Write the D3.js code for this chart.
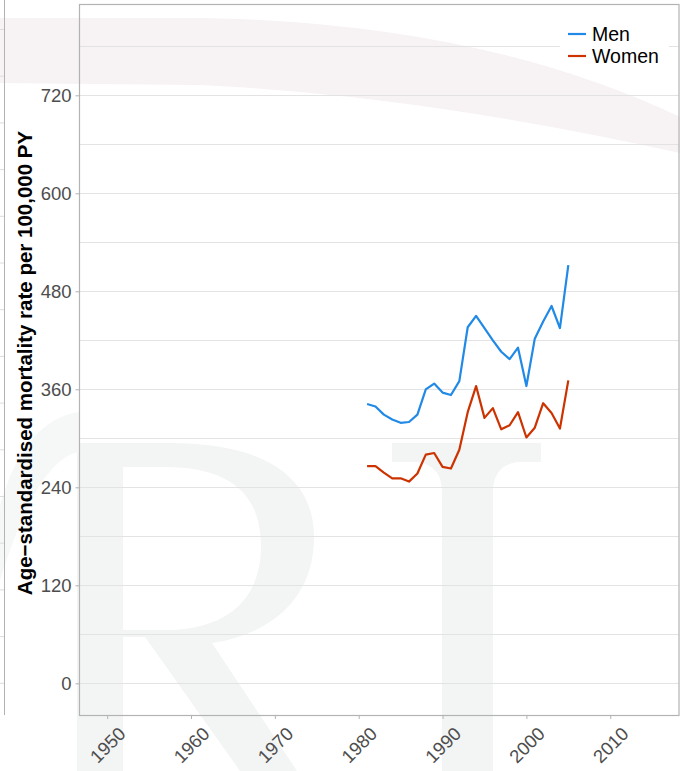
<!DOCTYPE html>
<html>
<head>
<meta charset="utf-8">
<script src="https://cdn.jsdelivr.net/npm/d3@7"></script>
<style>
  body { margin: 0; background: #fff; }
  svg { display: block; font-family: "Liberation Sans", Arial, sans-serif; }
</style>
</head>
<body>
<svg id="chart" width="680" height="771"></svg>
<script>
// ---- data ----
const years = d3.range(1981, 2006);
const menRates = [342, 339, 329, 323, 319, 320, 329, 360, 367, 356, 353, 370, 436, 450, 435,
                  420, 406, 397, 411, 364, 422, 443, 462, 435, 512];
const womenRates = [266, 266, 258, 251, 251, 247, 257, 280, 282, 265, 263, 286, 332, 364, 325,
                    337, 311, 316, 332, 301, 313, 343, 331, 312, 371];
const seriesNames = ["Men", "Women"];
const seriesColors = ["#2189e6", "#cc3300"];
const xTicks = [1950, 1960, 1970, 1980, 1990, 2000, 2010];
const yTicks = [0, 120, 240, 360, 480, 600, 720];
const yMinor = [60, 180, 300, 420, 540, 660, 780];

const svg = d3.select("#chart");
const plot = { left: 79.5, right: 679, top: 4, bottom: 715 };

const x = d3.scaleLinear().domain([1946.7, 2018.2]).range([plot.left, plot.right]);
const y = d3.scaleLinear().domain([-38.8, 831.8]).range([plot.bottom, plot.top]);

/************** Watermark (behind everything) **************/
const wm = svg.append("g").attr("class", "watermark");
// pale pink sweep at the top
wm.append("path")
  .attr("d", "M0,18 L200,18 Q480,22 680,117 L680,153 Q420,95 200,85 L0,83 Z")
  .attr("fill", "#f7f2f3");
// letters
wm.append("path")
  .attr("fill-rule", "evenodd")
  .attr("d",
    "M66,443 L170,443 C272,443 314,482 314,537 C314,598 272,634 212,643 L297,771 L240,771 L145,637 L123,637 L123,771 L77,771 L77,452 Z " +
    "M123,467 L165,467 C232,467 261,496 261,546 C261,600 226,630 165,630 L123,630 Z")
  .attr("fill", "#f3f4f4");
wm.append("path")
  .attr("d", "M392,443 L541,443 L541,462 L517,462 Q493,466 493,492 L493,771 L442,771 L442,492 Q442,466 418,462 L392,462 Z")
  .attr("fill", "#f3f4f4");
wm.append("path")
  .attr("d", "M0,505 Q25,420 79,412 L79,452 Q38,458 0,580 Z")
  .attr("fill", "#f6f7f7");

/************** Left neighbour panel edge **************/
const edge = svg.append("g").attr("class", "left-panel");
edge.append("line")
  .attr("x1", 4.5).attr("x2", 4.5).attr("y1", 0).attr("y2", plot.bottom)
  .attr("stroke", "#b3b3b3");
edge.selectAll("line.stub")
  .data(d3.range(15))
  .join("line")
    .attr("class", "stub")
    .attr("x1", 0).attr("x2", 4)
    .attr("y1", k => 29.5 + k * 46.7).attr("y2", k => 29.5 + k * 46.7)
    .attr("stroke", "#dcdcdc");

/************** Grid **************/
const grid = svg.append("g").attr("class", "grid");
grid.selectAll("line")
  .data(yTicks.concat(yMinor))
  .join("line")
    .attr("x1", plot.left).attr("x2", plot.right)
    .attr("y1", d => Math.round(y(d)) + 0.5).attr("y2", d => Math.round(y(d)) + 0.5)
    .attr("stroke", "#e3e3e3").attr("stroke-width", 1.2);

/************** Axes **************/
const yAxis = svg.append("g")
  .attr("transform", `translate(${plot.left},0)`)
  .call(d3.axisLeft(y).tickValues(yTicks).tickSize(4).tickPadding(4));
yAxis.select(".domain").remove();
yAxis.selectAll(".tick line").attr("stroke", "#b3b3b3");
yAxis.selectAll(".tick text")
  .attr("fill", "#4d4d4d").style("font-size", "18.5px")
  .style("font-family", "'Liberation Sans', Arial, sans-serif");

const xAxis = svg.append("g")
  .attr("transform", `translate(0,${plot.bottom})`)
  .call(d3.axisBottom(x).tickValues(xTicks).tickFormat(d3.format("d")).tickSize(4));
xAxis.select(".domain").remove();
xAxis.selectAll(".tick line").attr("stroke", "#b3b3b3");
xAxis.selectAll(".tick text")
  .attr("fill", "#4d4d4d").style("font-size", "18.5px")
  .style("font-family", "'Liberation Sans', Arial, sans-serif")
  .attr("text-anchor", "middle")
  .attr("y", 0).attr("dy", "0.35em")
  .attr("transform", "translate(0,30) rotate(-45)");

// plot frame
svg.append("rect")
  .attr("x", plot.left).attr("y", plot.top + 0.5)
  .attr("width", plot.right - plot.left).attr("height", plot.bottom - plot.top)
  .attr("fill", "none").attr("stroke", "#b3b3b3").attr("stroke-width", 1.2);

// y title
svg.append("text")
  .attr("transform", "translate(32,363) rotate(-90)")
  .attr("text-anchor", "middle")
  .style("font-size", "20.5px").style("font-weight", "bold")
  .attr("fill", "#000")
  .text("Age\u2212standardised mortality rate per 100,000 PY");

/************** Lines **************/
const line = d3.line().x(d => x(d.year)).y(d => y(d.value));
const series = [menRates, womenRates].map((vals, i) => ({
  name: seriesNames[i],
  color: seriesColors[i],
  values: years.map((yr, j) => ({ year: yr, value: vals[j] }))
}));

svg.append("g").attr("class", "lines")
  .selectAll("path")
  .data(series)
  .join("path")
    .attr("d", d => line(d.values))
    .attr("fill", "none")
    .attr("stroke", d => d.color)
    .attr("stroke-width", 2.2)
    .attr("stroke-linejoin", "round");

/************** Legend **************/
const legend = svg.append("g").attr("transform", "translate(560,20)");
legend.append("rect")
  .attr("width", 109).attr("height", 48).attr("fill", "#fff");
const items = legend.selectAll("g.item")
  .data(series)
  .join("g")
    .attr("class", "item")
    .attr("transform", (d, i) => `translate(0,${14 + i * 22})`);
items.append("line")
  .attr("x1", 8).attr("x2", 26).attr("y1", 0).attr("y2", 0)
  .attr("stroke", d => d.color).attr("stroke-width", 2.2);
items.append("text")
  .attr("x", 32).attr("dy", "0.35em")
  .style("font-size", "19.5px").attr("fill", "#000")
  .text(d => d.name);
</script>
</body>
</html>
